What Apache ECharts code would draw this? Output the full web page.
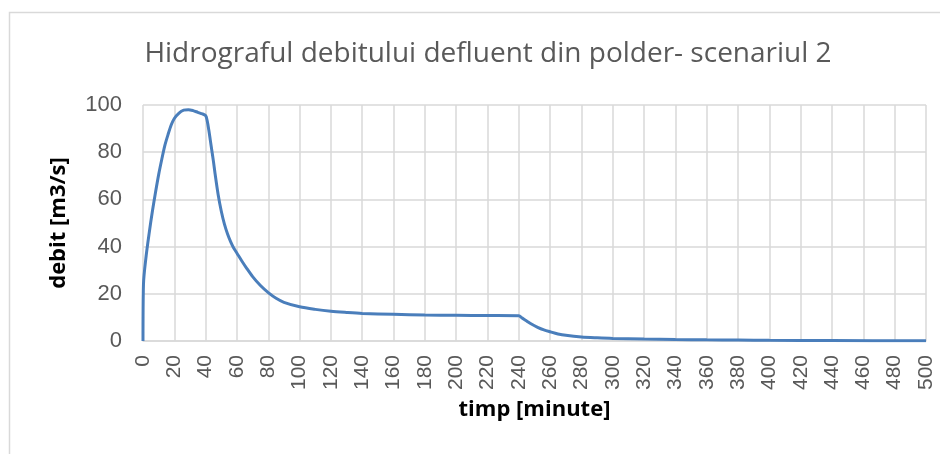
<!DOCTYPE html>
<html>
<head>
<meta charset="utf-8">
<script src="https://cdn.jsdelivr.net/npm/echarts@6/dist/echarts.min.js"></script>
<style>
    html, body { margin: 0; padding: 0; background: #fff; }
    #chart { width: 940px; height: 454px; }
</style>
</head>
<body>
<div id="chart"></div>
<script>
// timp [minute]
var timp = [0, 0.3, 2, 4, 6, 8, 10, 12, 14, 16, 18, 20, 23, 26, 29, 32, 35, 38, 40,
    41, 42, 43, 44, 45, 46, 48, 50, 52, 54, 56, 58, 60, 63, 66, 70, 75, 80, 85, 90,
    100, 110, 120, 130, 140, 160, 180, 200, 220, 240, 242, 245, 248, 252, 256, 260,
    265, 270, 280, 290, 300, 320, 340, 360, 380, 400, 440, 500];
// debit [m3/s]
var debit = [0, 24, 36, 46, 55, 63, 70.5, 77, 83, 87.5, 91.5, 94.3, 96.6, 97.8, 98, 97.6, 96.9, 96.2, 95.5,
    93.3, 89.5, 85, 80.5, 76, 71, 62, 55, 49.5, 45.3, 42, 39.3, 37.2, 34, 31, 27.3, 23.5, 20.5, 18.1, 16.4,
    14.5, 13.4, 12.6, 12.1, 11.7, 11.3, 11.0, 10.9, 10.8, 10.7, 9.8, 8.5, 7.2, 5.8, 4.7, 3.9,
    3.0, 2.4, 1.7, 1.35, 1.1, 0.85, 0.65, 0.5, 0.4, 0.3, 0.2, 0.1];

var titlu = 'Hidrograful debitului defluent din polder- scenariul 2';
var numeX = 'timp [minute]';
var numeY = 'debit [m3/s]';

var chart = echarts.init(document.getElementById('chart'));
var puncte = timp.map(function (t, i) { return [t, debit[i]]; });

var option = {
    animation: false,
    title: {
        text: titlu,
        left: 483,
        top: 35,
        textAlign: 'center',
        textStyle: {
            fontFamily: 'Open Sans',
            fontWeight: 'normal',
            fontSize: 28,
            color: '#595959'
        }
    },
    graphic: [{
        type: 'rect',
        shape: { x: 9.5, y: 12.5, width: 940, height: 460 },
        style: { fill: 'none', stroke: '#d9d9d9', lineWidth: 1.5 },
        silent: true
    }],
    grid: {
        left: 143,
        right: 14,
        top: 105,
        bottom: 113
    },
    xAxis: {
        type: 'value',
        min: 0,
        max: 500,
        interval: 20,
        name: numeX,
        nameLocation: 'middle',
        nameGap: 58,
        nameTextStyle: {
            fontFamily: 'Open Sans',
            fontWeight: 'bold',
            fontSize: 22,
            color: '#000'
        },
        axisLine: { lineStyle: { color: '#d9d9d9', width: 1.5 } },
        axisTick: { show: false },
        splitLine: { show: true, lineStyle: { color: '#d9d9d9', width: 1.5 } },
        axisLabel: {
            rotate: 90,
            margin: 14,
            fontFamily: 'Liberation Sans',
            fontSize: 21,
            color: '#595959'
        }
    },
    yAxis: {
        type: 'value',
        min: 0,
        max: 100,
        interval: 20,
        name: numeY,
        nameLocation: 'middle',
        nameGap: 73,
        nameTextStyle: {
            fontFamily: 'Open Sans',
            fontWeight: 'bold',
            fontSize: 22,
            color: '#000'
        },
        axisLine: { show: false },
        axisTick: { show: false },
        splitLine: { lineStyle: { color: '#d9d9d9', width: 1.5 } },
        axisLabel: {
            margin: 21,
            fontFamily: 'Liberation Sans',
            fontSize: 22,
            color: '#595959'
        }
    },
    series: [{
        type: 'line',
        data: puncte,
        showSymbol: false,
        smooth: 0.3,
        lineStyle: { color: '#4a7ebb', width: 3 }
    }]
};

chart.setOption(option);
</script>
</body>
</html>
